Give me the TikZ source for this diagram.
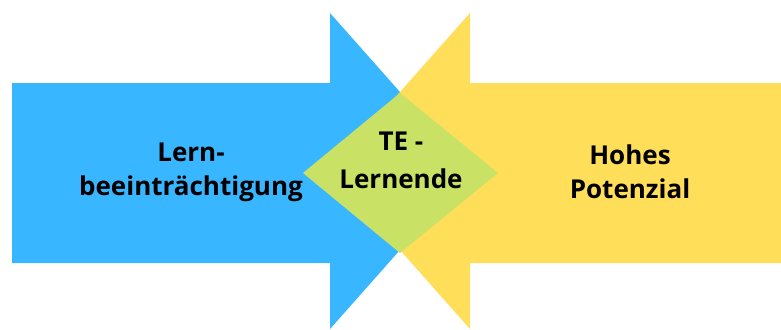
\documentclass[tikz,border=0pt]{standalone}
\usepackage{fontspec}
\setmainfont{Open Sans}
\definecolor{arrowblue}{HTML}{38B6FF}
\definecolor{arrowyellow}{HTML}{FFDE59}
\definecolor{centregreen}{HTML}{C9E265}
\begin{document}
\begin{tikzpicture}[x=1pt,y=-1pt,
  label/.style={align=center,font=\fontsize{26}{34}\selectfont\bfseries,text=black,inner sep=0pt}]
\useasboundingbox[fill=white] (0,0) rectangle (781,329);
% left arrow pointing right
\fill[arrowblue] (12,83) -- (330,83) -- (330,13) -- (470,171) -- (330,329)
  -- (330,263) -- (12,263) -- cycle;
% right arrow pointing left
\fill[arrowyellow] (781,83) -- (470,83) -- (470,13) -- (330,171) -- (470,329)
  -- (470,263) -- (781,263) -- cycle;
% meeting zone
\fill[centregreen] (400,93) -- (498,173) -- (400,253) -- (303,173) -- cycle;
% labels
\node[label] (lb) at (191,172) {Lern-\\beeinträchtigung};
\node[label] (hp) at (630,172) {Hohes\\Potenzial};
\node[label,font=\fontsize{26}{38}\selectfont\bfseries] (te) at (401,160) {TE -\\Lernende};
\end{tikzpicture}
\end{document}
